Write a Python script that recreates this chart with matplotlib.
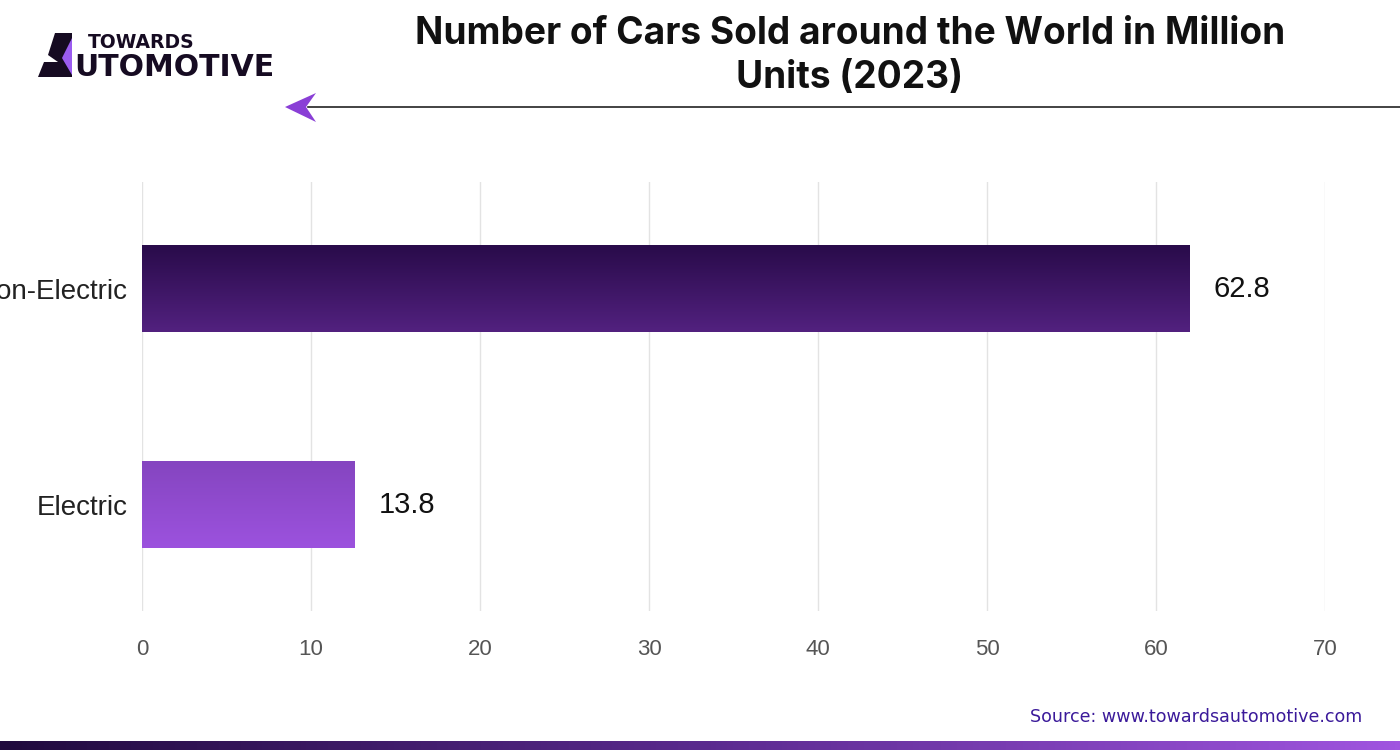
import numpy as np
import matplotlib.pyplot as plt
from matplotlib.patches import Polygon
from matplotlib.colors import LinearSegmentedColormap

# Data
categories = ['Non-Electric', 'Electric']
bar_lengths = [62.0, 12.6]          # bar ends as drawn in the chart
value_labels = ['62.8', '13.8']     # printed labels
xticks = [0, 10, 20, 30, 40, 50, 60, 70]

# bar gradients (top colour, bottom colour)
bar_colors = [('#290b4a', '#52217f'), ('#8545c0', '#9c52de')]

plt.rcParams['font.family'] = ['Liberation Sans', 'DejaVu Sans']

fig = plt.figure(figsize=(14, 7.5), dpi=100)
W, H = 1400, 750

# main axes: x 0 -> 142px, 70 -> 1325px ; y gridlines 182px..611px
ax = fig.add_axes([142 / W, 1 - 611 / H, (1325 - 142) / W, (611 - 182) / H])
ypos = [1, 0]
bar_h = 0.4
ax.set_xlim(0, 70)
ax.set_ylim(-0.49, 1.495)

for y, length, (c_top, c_bot) in zip(ypos, bar_lengths, bar_colors):
    cmap = LinearSegmentedColormap.from_list('g', [c_bot, c_top])
    grad = np.linspace(0, 1, 100).reshape(-1, 1)
    ax.imshow(grad, cmap=cmap, aspect='auto', origin='lower',
              extent=[0, length, y - bar_h / 2, y + bar_h / 2], zorder=2)

for y, length, lab in zip(ypos, bar_lengths, value_labels):
    ax.text(length + 1.4, y, lab, va='center', ha='left', fontsize=21, color='#111111', zorder=3)

ax.set_xticks(xticks)
ax.set_yticks(ypos)
ax.set_yticklabels(categories, fontsize=20, color='#222222')
ax.tick_params(axis='x', labelsize=16, labelcolor='#555555', length=0, pad=20)
ax.tick_params(axis='y', length=0, pad=10)
ax.grid(axis='x', color='#e3e3e3', linewidth=1, zorder=0)
ax.set_axisbelow(True)
for s in ax.spines.values():
    s.set_visible(False)

# overlay axes in pixel coordinates for decorations
ov = fig.add_axes([0, 0, 1, 1], zorder=5)
ov.set_xlim(0, W)
ov.set_ylim(H, 0)
ov.axis('off')

# title
ov.text(850, 56, 'Number of Cars Sold around the World in Million\nUnits (2023)',
        ha='center', va='center', fontsize=26.7, fontweight='bold', color='#111111',
        linespacing=1.32, family=['Inter', 'DejaVu Sans'])

# arrow line
ov.plot([308, 1400], [107, 107], color='#222222', linewidth=1.2)
ov.add_patch(Polygon([[285, 107], [316, 93], [306, 107], [316, 122]], closed=True,
                     facecolor='#8a3fd6', edgecolor='none'))

# logo: stylised "A" then text
ov.add_patch(Polygon([[55, 33], [72, 33], [72, 77], [38, 77], [44, 62], [58, 62], [48, 55]],
                     closed=True, facecolor='#160b22', edgecolor='none'))
ov.add_patch(Polygon([[62, 58], [72, 38], [72, 75]], closed=True, facecolor='#9b5cf0', edgecolor='none'))
ov.text(88, 42, 'TOWARDS', fontsize=13.5, fontweight='bold', color='#160b22', ha='left', va='center',
        family=['DejaVu Sans'])
ov.text(74, 67, 'UTOMOTIVE', fontsize=21.5, fontweight='bold', color='#160b22', ha='left', va='center',
        family=['DejaVu Sans'])

# source
ov.text(1362, 717, 'Source: www.towardsautomotive.com', ha='right', va='center',
        fontsize=12.6, color='#3b1a9a', family=['DejaVu Sans'])

# bottom gradient strip
strip = LinearSegmentedColormap.from_list('s', ['#200a3e', '#5a2a8e', '#a055e0'])
ov.imshow(np.linspace(0, 1, 256).reshape(1, -1), cmap=strip, aspect='auto',
          extent=[0, W, 750, 741], zorder=1)
ov.set_xlim(0, W)
ov.set_ylim(H, 0)

fig.savefig('out.png', dpi=100)
